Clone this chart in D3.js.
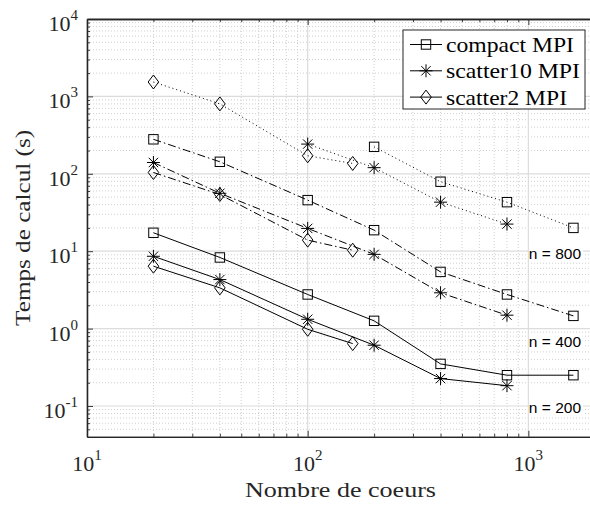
<!DOCTYPE html>
<html><head><meta charset="utf-8">
<script src="https://cdn.jsdelivr.net/npm/d3@7"></script>
</head><body style="margin:0">
<svg id="c" width="590" height="506" font-family="Liberation Serif"></svg>
<script>
// ---- data ----
const xTickValues = [10, 100, 1000];
const xTickExps = ["1", "2", "3"];
const yTickValues = [0.1, 1, 10, 100, 1000, 10000];
const yTickExps = ["-1", "0", "1", "2", "3", "4"];
const seriesNames = ["compact MPI", "scatter10 MPI", "scatter2 MPI"];
const groups = ["n = 200", "n = 400", "n = 800"];
const groupLabelY = [0.1, 0.72, 10];

// n = 200 (solid)
const compact200_x = [20, 40, 100, 200, 400, 800, 1600];
const compact200_y = [17.3, 8.3, 2.76, 1.26, 0.35, 0.25, 0.25];
const scatter10_200_x = [20, 40, 100, 200, 400, 800];
const scatter10_200_y = [8.6, 4.3, 1.32, 0.61, 0.226, 0.183];
const scatter2_200_x = [20, 40, 100, 160];
const scatter2_200_y = [6.4, 3.36, 0.98, 0.64];
// n = 400 (dash-dot)
const compact400_x = [20, 40, 100, 200, 400, 800, 1600];
const compact400_y = [279, 143, 45.7, 18.7, 5.4, 2.76, 1.46];
const scatter10_400_x = [20, 40, 100, 200, 400, 800];
const scatter10_400_y = [140, 56, 19.7, 9.1, 2.9, 1.49];
const scatter2_400_x = [20, 40, 100, 160];
const scatter2_400_y = [104, 54, 13.9, 10.3];
// n = 800 (dotted)
const compact800_x = [200, 400, 800, 1600];
const compact800_y = [223, 79, 43, 20];
const scatter10_800_x = [100, 200, 400, 800];
const scatter10_800_y = [242, 120, 43, 22.4];
const scatter2_800_x = [20, 40, 100, 160];
const scatter2_800_y = [1535, 800, 171, 136];

const series = [
  {xs: compact200_x, ys: compact200_y, marker: "square", dash: null},
  {xs: scatter10_200_x, ys: scatter10_200_y, marker: "star", dash: null},
  {xs: scatter2_200_x, ys: scatter2_200_y, marker: "diamond", dash: null},
  {xs: compact400_x, ys: compact400_y, marker: "square", dash: "8,3,1.5,3"},
  {xs: scatter10_400_x, ys: scatter10_400_y, marker: "star", dash: "8,3,1.5,3"},
  {xs: scatter2_400_x, ys: scatter2_400_y, marker: "diamond", dash: "8,3,1.5,3"},
  {xs: compact800_x, ys: compact800_y, marker: "square", dash: "1,3"},
  {xs: scatter10_800_x, ys: scatter10_800_y, marker: "star", dash: "1,3"},
  {xs: scatter2_800_x, ys: scatter2_800_y, marker: "diamond", dash: "1,3"},
];

// ---- chart ----
const svg = d3.select("#c");
const L = 87, T = 19, B = 436.8, R = 594.8;
const x = d3.scaleLog().domain([10, 2000]).range([L, R]);
const y = d3.scaleLog().domain([0.04, 10000]).range([B, T]);
const AX = "#262626";
const SANS = "Liberation Sans";

svg.append("rect").attr("width", 590).attr("height", 506).attr("fill", "#fff");

const minorX = [], minorY = [];
[10, 100, 1000].forEach(d => { for (let k = 2; k <= 9; k++) { const v = d * k; if (v < 2000) minorX.push(v); } });
[0.01, 0.1, 1, 10, 100, 1000].forEach(d => { for (let k = 2; k <= 9; k++) { const v = d * k; if (v > 0.04 && v < 10000) minorY.push(v); } });

const grid = svg.append("g");
grid.selectAll(".mgx").data(minorX).join("line")
  .attr("x1", d => x(d)).attr("x2", d => x(d)).attr("y1", T).attr("y2", B)
  .attr("stroke", "#c4c4c4").attr("stroke-width", 0.8).attr("stroke-dasharray", "1,2");
grid.selectAll(".mgy").data(minorY).join("line")
  .attr("y1", d => y(d)).attr("y2", d => y(d)).attr("x1", L).attr("x2", R)
  .attr("stroke", "#c4c4c4").attr("stroke-width", 0.8).attr("stroke-dasharray", "1,2");
grid.selectAll(".gx").data(xTickValues).join("line")
  .attr("x1", d => x(d)).attr("x2", d => x(d)).attr("y1", T).attr("y2", B)
  .attr("stroke", "#dcdcdc").attr("stroke-width", 1.2);
grid.selectAll(".gy").data(yTickValues).join("line")
  .attr("y1", d => y(d)).attr("y2", d => y(d)).attr("x1", L).attr("x2", R)
  .attr("stroke", "#dcdcdc").attr("stroke-width", 1.2);

// axes (inward ticks)
function styleAxis(g) {
  g.attr("font-family", null).attr("font-size", null);
  g.selectAll("path.domain").attr("stroke", AX).attr("stroke-width", 1.3);
  g.selectAll(".tick line").attr("stroke", AX).attr("stroke-width", 0.9);
  g.selectAll(".tick text").remove();
}
svg.append("g").attr("transform", `translate(0,${B})`)
  .call(d3.axisBottom(x).tickValues(xTickValues).tickSizeInner(-6).tickSizeOuter(0).tickFormat("")).call(styleAxis);
svg.append("g").attr("transform", `translate(0,${B})`)
  .call(d3.axisBottom(x).tickValues(minorX).tickSizeInner(-3).tickSizeOuter(0).tickFormat("")).call(styleAxis);
svg.append("g").attr("transform", `translate(0,${T})`)
  .call(d3.axisTop(x).tickValues(xTickValues).tickSizeInner(-6).tickSizeOuter(0).tickFormat("")).call(styleAxis);
svg.append("g").attr("transform", `translate(0,${T})`)
  .call(d3.axisTop(x).tickValues(minorX).tickSizeInner(-3).tickSizeOuter(0).tickFormat("")).call(styleAxis);
svg.append("g").attr("transform", `translate(${L},0)`)
  .call(d3.axisLeft(y).tickValues(yTickValues).tickSizeInner(-6).tickSizeOuter(0).tickFormat("")).call(styleAxis);
svg.append("g").attr("transform", `translate(${L},0)`)
  .call(d3.axisLeft(y).tickValues(minorY).tickSizeInner(-3).tickSizeOuter(0).tickFormat("")).call(styleAxis);

// text layer (serif inherited from svg root)
const txt = svg.append("g").attr("font-family", "Liberation Serif");

// tick labels
xTickValues.forEach((v, i) => {
  const t = txt.append("text").attr("x", x(v)).attr("y", 471).attr("text-anchor", "middle")
    .attr("font-size", 22).attr("fill", AX);
  t.append("tspan").text("10");
  t.append("tspan").attr("font-size", 15).attr("dy", -11).text(xTickExps[i]);
});
yTickValues.forEach((v, i) => {
  const t = txt.append("text").attr("x", 78).attr("y", y(v) + 12).attr("text-anchor", "end")
    .attr("font-size", 22).attr("fill", AX);
  t.append("tspan").text("10");
  t.append("tspan").attr("font-size", 15).attr("dy", -11).text(yTickExps[i]);
});

// axis titles
txt.append("text").attr("x", 340.5).attr("y", 497).attr("text-anchor", "middle")
  .attr("font-size", 21).attr("fill", AX)
  .attr("textLength", 191).attr("lengthAdjust", "spacingAndGlyphs").text("Nombre de coeurs");
txt.append("text").attr("transform", `translate(30,${(T + B) / 2}) rotate(-90)`).attr("text-anchor", "middle")
  .attr("font-size", 21).attr("fill", AX)
  .attr("textLength", 196).attr("lengthAdjust", "spacingAndGlyphs").text("Temps de calcul (s)");

// markers
function drawMarker(g, m, cx, cy) {
  if (m === "square") {
    g.append("rect").attr("x", cx - 4.7).attr("y", cy - 4.7).attr("width", 9.4).attr("height", 9.4)
      .attr("fill", "none").attr("stroke", "#000").attr("stroke-width", 1);
  } else if (m === "diamond") {
    g.append("path").attr("d", `M${cx},${cy - 7}L${cx + 5.3},${cy}L${cx},${cy + 7}L${cx - 5.3},${cy}Z`)
      .attr("fill", "none").attr("stroke", "#000").attr("stroke-width", 1);
  } else {
    const r = 6.5, r2 = r * 0.72;
    g.append("path").attr("d",
      `M${cx - r},${cy}L${cx + r},${cy}M${cx},${cy - r}L${cx},${cy + r}` +
      `M${cx - r2},${cy - r2}L${cx + r2},${cy + r2}M${cx - r2},${cy + r2}L${cx + r2},${cy - r2}`)
      .attr("fill", "none").attr("stroke", "#000").attr("stroke-width", 1);
  }
}

const plot = svg.append("g");
const line = d3.line().x(d => x(d[0])).y(d => y(d[1]));
series.forEach(s => {
  const pts = s.xs.map((v, i) => [v, s.ys[i]]);
  plot.append("path").attr("d", line(pts)).attr("fill", "none").attr("stroke", "#000")
    .attr("stroke-width", 1).attr("stroke-dasharray", s.dash);
});
series.forEach(s => {
  s.xs.forEach((v, i) => drawMarker(plot, s.marker, x(v), y(s.ys[i])));
});

// group labels (with white background)
groups.forEach((g, i) => {
  const gx = x(1000) + 0.5, gy = y(groupLabelY[i]) + 7.4;
  svg.append("rect").attr("x", gx).attr("y", gy - 12).attr("width", 54).attr("height", 13).attr("fill", "#fff");
  svg.append("text").attr("font-family", SANS).attr("x", gx).attr("y", gy)
    .attr("font-size", 15.5).attr("fill", "#000").text(g);
});

// legend
const lg = svg.append("g");
lg.append("rect").attr("x", 403).attr("y", 30).attr("width", 182).attr("height", 79)
  .attr("fill", "#fff").attr("stroke", AX).attr("stroke-width", 1);
const legMarkers = ["square", "star", "diamond"];
const legLens = [128, 134, 121];
seriesNames.forEach((name, i) => {
  const cy = 44.5 + i * 26.3;
  lg.append("line").attr("x1", 410).attr("x2", 442).attr("y1", cy).attr("y2", cy)
    .attr("stroke", "#000").attr("stroke-width", 1);
  drawMarker(lg, legMarkers[i], 426, cy);
  lg.append("text").attr("font-family", "Liberation Serif").attr("x", 446).attr("y", cy + 7.5).attr("font-size", 21)
    .attr("fill", "#000").attr("textLength", legLens[i]).attr("lengthAdjust", "spacingAndGlyphs").text(name);
});
</script>
</body></html>
